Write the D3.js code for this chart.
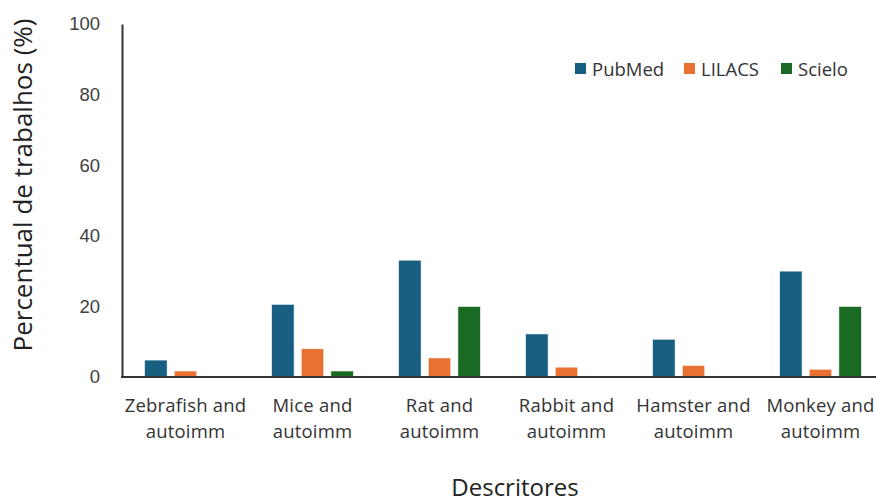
<!DOCTYPE html>
<html><head><meta charset="utf-8">
<script src="https://cdn.jsdelivr.net/npm/d3@7"></script>
<style>body{margin:0;background:#fff}svg{display:block}</style>
</head><body><svg id="c" width="876" height="503"></svg>
<script>
const categories = [["Zebrafish and","autoimm"],["Mice and","autoimm"],["Rat and","autoimm"],["Rabbit and","autoimm"],["Hamster and","autoimm"],["Monkey and","autoimm"]];
const seriesNames = ["PubMed","LILACS","Scielo"];
const pubmed = [4.8, 20.6, 33.1, 12.2, 10.7, 30.0];
const lilacs = [1.7, 8.0, 5.4, 2.8, 3.3, 2.2];
const scielo = [0, 1.7, 20.0, 0, 0, 20.0];
const yTicks = [0,20,40,60,80,100];
const colors = ["#185f82","#e97132","#1b6a23"];

const svg = d3.select("#c");
const mLeft = 122, mRight = 884, mTop = 24, mBottom = 377;
const x0 = d3.scaleBand().domain(d3.range(categories.length)).range([mLeft, mRight]).paddingInner(0).paddingOuter(0);
const x1 = d3.scaleBand().domain(seriesNames).range([0, x0.bandwidth()]).paddingInner(0.24).paddingOuter(0.76);
const y = d3.scaleLinear().domain([0,100]).range([mBottom, mTop]);
const values = [pubmed, lilacs, scielo];
const font = "'Liberation Sans', Arial, sans-serif";
const font2 = "'Open Sans', sans-serif";

// bars
seriesNames.forEach((s,si)=>{
  svg.append("g").selectAll("rect").data(values[si]).join("rect")
    .attr("x",(d,i)=>x0(i)+x1(s))
    .attr("y",d=>y(d))
    .attr("width",x1.bandwidth())
    .attr("height",d=>y(0)-y(d))
    .attr("fill",colors[si])
    .attr("stroke","#fff").attr("stroke-width",0.6);
});

// y axis
const ya = svg.append("g").attr("transform",`translate(${mLeft},0)`)
  .call(d3.axisLeft(y).tickValues(yTicks).tickSize(0).tickPadding(22));
ya.select(".domain").attr("stroke","#333").attr("stroke-width",2);
ya.selectAll("text").attr("font-family",font).attr("font-size",18.5).attr("fill","#404040");

// x axis line
svg.append("line").attr("x1",mLeft-1).attr("x2",876).attr("y1",mBottom).attr("y2",mBottom)
  .attr("stroke","#333").attr("stroke-width",2);

// category labels
const cl = svg.append("g");
categories.forEach((c,i)=>{
  const t = cl.append("text").attr("x",x0(i)+x0.bandwidth()/2).attr("y",412)
    .attr("text-anchor","middle").attr("font-family",font2).attr("font-size",18.5).attr("fill","#333")
    .attr("letter-spacing",0.2);
  c.forEach((line,li)=>t.append("tspan").attr("x",x0(i)+x0.bandwidth()/2).attr("dy",li?25.5:0).text(line));
});

// axis titles
svg.append("text").attr("transform","translate(32,185) rotate(-90)").attr("text-anchor","middle")
  .attr("font-family",font2).attr("font-size",26).attr("fill","#222").text("Percentual de trabalhos (%)");
svg.append("text").attr("x",515).attr("y",496).attr("text-anchor","middle")
  .attr("font-family",font2).attr("font-size",24).attr("fill","#222").text("Descritores");

// legend
const legX = [575, 684, 781];
seriesNames.forEach((s,i)=>{
  svg.append("rect").attr("x",legX[i]).attr("y",63).attr("width",11).attr("height",11).attr("fill",colors[i]);
  svg.append("text").attr("x",legX[i]+17).attr("y",75.5).attr("font-family",font2).attr("font-size",18.5)
    .attr("fill","#333").text(s);
});
</script></body></html>
